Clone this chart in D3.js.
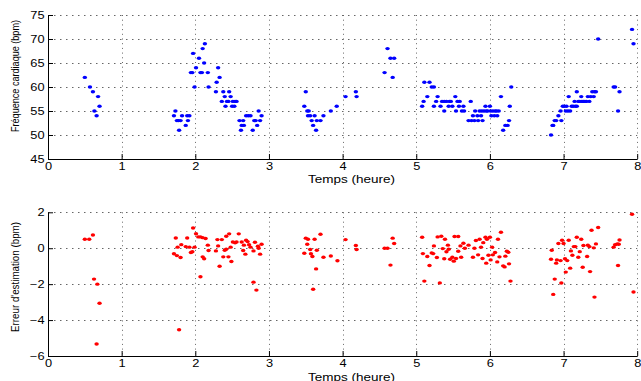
<!DOCTYPE html>
<html>
<head>
<meta charset="utf-8">
<script src="https://cdn.jsdelivr.net/npm/d3@7"></script>
<style>
  html, body { margin: 0; padding: 0; background: #fff; }
  svg { display: block; }
  text { font-family: "Liberation Sans", Arial, sans-serif; fill: #000; }
</style>
</head>
<body>
<div id="chart"></div>
<script>
const WIDTH = 641
const HEIGHT = 381
// the figure was resized wider than tall, so horizontal text is stretched
const TEXT_STRETCH = 1.28

// heart rate (top panel)
const hrTime = [
  0.50, 0.57, 0.61, 0.63, 0.66, 0.68, 0.70,
  1.71, 1.73, 1.75, 1.77, 1.78, 1.80, 1.82, 1.87, 1.89, 1.90, 1.92, 1.94, 1.96, 1.97,
  1.99, 2.01, 2.05, 2.07, 2.09, 2.10, 2.12, 2.13, 2.17, 2.18, 2.28, 2.29, 2.31, 2.33,
  2.36, 2.38, 2.40, 2.41, 2.43, 2.45, 2.46, 2.48, 2.50, 2.51, 2.53, 2.54, 2.56, 2.60,
  2.62, 2.63, 2.65, 2.66, 2.69, 2.72, 2.75, 2.78, 2.80, 2.82, 2.84, 2.86, 2.88, 2.90,
  3.48, 3.50, 3.52, 3.54, 3.53, 3.56, 3.58, 3.60, 3.62, 3.64, 3.65, 3.70, 3.74, 3.84,
  3.92, 4.04, 4.18, 4.19, 4.57, 4.61, 4.65, 4.68, 4.70,
  5.08, 5.10, 5.11, 5.15, 5.18, 5.21, 5.24, 5.24, 5.27, 5.29, 5.33, 5.35, 5.38, 5.38,
  5.41, 5.44, 5.45, 5.47, 5.49, 5.53, 5.54, 5.56, 5.58, 5.59, 5.62, 5.64, 5.65, 5.71,
  5.74, 5.75, 5.77, 5.79, 5.80, 5.83, 5.84, 5.86, 5.88, 5.89, 5.90, 5.92, 5.94, 5.95,
  5.97, 6.00, 6.01, 6.02, 6.04, 6.06, 6.07, 6.09, 6.10, 6.12, 6.15, 6.18, 6.21, 6.24,
  6.26, 6.27, 6.29,
  6.83, 6.85, 6.86, 6.88, 6.90, 6.93, 6.96, 6.97, 6.99, 7.01, 7.03, 7.04, 7.06, 7.07,
  7.09, 7.11, 7.13, 7.15, 7.16, 7.18, 7.18, 7.20, 7.22, 7.24, 7.25, 7.27, 7.29, 7.31,
  7.33, 7.35, 7.37, 7.39, 7.41, 7.42, 7.44, 7.47, 7.68, 7.70, 7.74, 7.76, 7.93, 7.95
]
const hrBpm = [
  62, 60, 59, 55, 54, 58, 56,
  54, 55, 53, 53, 51, 53, 54, 52, 54, 53, 54, 63, 63, 67,
  60, 64, 66, 63, 63, 68, 65, 69, 63, 60, 59, 61, 64, 62,
  57, 59, 58, 56, 57, 57, 59, 58, 56, 57, 56, 57, 57, 53,
  51, 52, 53, 52, 54, 54, 54, 51, 53, 53, 52, 55, 53, 54,
  56, 59, 55, 55, 54, 54, 53, 52, 54, 51, 53, 53, 54, 55,
  56, 58, 59, 58, 63, 68, 66, 62, 66,
  56, 57, 61, 58, 61, 60, 60, 56, 57, 58, 56, 57, 55, 57,
  57, 56, 57, 57, 56, 58, 55, 57, 56, 57, 55, 56, 55, 53,
  57, 53, 54, 53, 55, 54, 53, 55, 54, 55, 53, 55, 56, 55,
  55, 56, 55, 54, 55, 54, 55, 55, 54, 55, 58, 51, 52, 52,
  53, 56, 60,
  50, 52, 52, 53, 53, 54, 55, 53, 56, 56, 55, 56, 55, 58,
  55, 56, 56, 57, 56, 59, 56, 57, 57, 58, 57, 57, 57, 57,
  58, 57, 58, 59, 58, 59, 59, 70, 60, 60, 55, 59, 72, 69
]

// estimation error (bottom panel)
const errTime = [
  0.50, 0.56, 0.61, 0.625, 0.66, 0.67, 0.70,
  1.71, 1.735, 1.75, 1.76, 1.78, 1.80, 1.81, 1.87, 1.89, 1.92, 1.94, 1.96, 1.97, 1.99,
  2.01, 2.04, 2.07, 2.07, 2.10, 2.10, 2.12, 2.14, 2.17, 2.18, 2.28, 2.30, 2.31, 2.33,
  2.36, 2.38, 2.40, 2.42, 2.42, 2.45, 2.46, 2.48, 2.49, 2.51, 2.54, 2.56, 2.59, 2.63,
  2.65, 2.66, 2.68, 2.69, 2.71, 2.73, 2.75, 2.79, 2.79, 2.81, 2.83, 2.85, 2.86, 2.88, 2.90,
  3.48, 3.50, 3.52, 3.53, 3.56, 3.57, 3.59, 3.60, 3.62, 3.64, 3.65, 3.70, 3.74, 3.84,
  3.93, 4.04, 4.18, 4.19, 4.57, 4.61, 4.65, 4.68, 4.70,
  5.08, 5.09, 5.11, 5.15, 5.18, 5.21, 5.24, 5.23, 5.28, 5.29, 5.34, 5.32, 5.36, 5.38,
  5.39, 5.41, 5.43, 5.44, 5.46, 5.49, 5.51, 5.52, 5.57, 5.54, 5.57, 5.60, 5.61, 5.64,
  5.66, 5.71, 5.77, 5.79, 5.81, 5.84, 5.86, 5.88, 5.90, 5.91, 5.94, 5.95, 5.96, 5.98,
  6.00, 6.01, 6.03, 6.04, 6.07, 6.10, 6.11, 6.13, 6.15, 6.18, 6.20, 6.21, 6.23, 6.25,
  6.26, 6.28,
  6.83, 6.84, 6.86, 6.88, 6.90, 6.91, 6.93, 6.96, 6.97, 6.98, 7.00, 7.02, 7.03, 7.05,
  7.07, 7.09, 7.10, 7.12, 7.14, 7.16, 7.18, 7.20, 7.22, 7.24, 7.26, 7.27, 7.32, 7.33,
  7.35, 7.36, 7.38, 7.41, 7.42, 7.44, 7.47, 7.68, 7.70, 7.73, 7.74, 7.75, 7.76, 7.93, 7.95
]
const errValue = [
  0.5, 0.5, 0.74, -1.72, -5.33, -2.0, -3.06,
  -0.31, 0.57, -0.41, 0.06, -4.54, -0.52, 0.2, 0.09, 0.57, 0.06, -0.24, -0.2, 1.13, 0.06,
  0.81, 0.63, 0.63, -1.59, 0.59, -0.48, -0.59, 0.54, 0.17, -0.13, -0.15, 0.48, 0.13, -1.0,
  0.48, -0.48, -0.11, -0.06, 0.67, -0.48, 0.8, 0.06, -0.74, 0.35, 0.3, 0.35, 0.8, 0.35,
  -0.13, 0.17, -0.33, 0.44, 0.37, 0.19, 0.06, -0.15, -1.89, 0.33, -2.33, 0.11, 0.0, -0.33, 0.22,
  -0.28, 0.56, 0.22, 0.5, -0.07, -0.31, -0.46, -2.28, 0.5, -1.15, -0.11, 0.78, -0.5, -0.43,
  -0.7, 0.48, 0.15, -0.07, 0.0, 0.0, -0.94, 0.56, 0.26,
  0.61, -0.3, -1.83, -0.46, -0.96, -0.26, 0.13, -0.3, -0.52, 0.63, 0.67, -1.93, -0.02, -0.59,
  0.5, -0.2, 0.17, -0.06, -0.61, -0.5, -0.72, 0.65, 0.65, -0.57, -0.17, 0.13, -0.5, 0.28,
  0.0, 0.17, -0.5, 0.0, 0.43, -0.37, 0.5, 0.06, -0.57, 0.31, 0.61, -0.83, 0.5, -0.39,
  0.61, -0.65, 0.06, -0.37, -0.24, -0.76, 0.5, -0.48, 0.89, -0.98, -1.04, -0.44, -0.17, -0.22,
  -0.87, -1.83,
  -0.61, -0.11, -2.57, -1.72, -0.83, -0.65, 0.26, -0.69, -1.94, 0.44, 0.26, -0.59, -1.33, -0.69,
  0.44, -1.11, -0.15, -0.39, 0.09, 0.09, 0.61, -0.5, -0.19, 0.5, -1.06, 0.15, -0.46, 0.17,
  0.09, -1.3, 1.0, 0.02, -2.72, 0.24, 1.15, 0.06, 0.19, 0.24, -0.96, 0.22, 0.46, 1.89, -2.44
]

const timeTicks = [0, 1, 2, 3, 4, 5, 6, 7, 8]
const bpmTicks = [45, 50, 55, 60, 65, 70, 75]
const errTicks = [-6, -4, -2, 0, 2]

const svg = d3.select('#chart')
  .append('svg')
  .attr('width', WIDTH)
  .attr('height', HEIGHT)

const x = d3.scaleLinear().domain([0, 8]).range([48, 637.2])

function drawPanel(opts) {
  const y = d3.scaleLinear().domain(opts.yDomain).range(opts.yRange)
  const g = svg.append('g')
  const [x0, x1] = x.range()
  const yBottom = opts.yRange[0]
  const yTop = opts.yRange[1]

  // dotted grid
  g.append('g')
    .selectAll('line')
    .data(timeTicks.filter((d) => d !== 0))
    .enter()
    .append('line')
    .attr('x1', (d) => Math.round(x(d)) + 0.5)
    .attr('x2', (d) => Math.round(x(d)) + 0.5)
    .attr('y1', yTop)
    .attr('y2', yBottom)
    .attr('stroke', '#666')
    .attr('stroke-dasharray', '1,3.7')

  g.append('g')
    .selectAll('line')
    .data(opts.yTicks.filter((d) => d !== opts.yDomain[0]))
    .enter()
    .append('line')
    .attr('x1', x0)
    .attr('x2', x1)
    .attr('y1', (d) => Math.round(y(d)) + 0.5)
    .attr('y2', (d) => Math.round(y(d)) + 0.5)
    .attr('stroke', '#666')
    .attr('stroke-dasharray', '1.5,4.5')

  // points
  g.append('g')
    .selectAll('ellipse')
    .data(d3.zip(opts.xs, opts.ys))
    .enter()
    .append('ellipse')
    .attr('cx', (d) => x(d[0]))
    .attr('cy', (d) => y(d[1]))
    .attr('rx', 2.2)
    .attr('ry', 1.7)
    .attr('fill', opts.color)

  const xAxis = g.append('g')
    .attr('transform', `translate(0,${Math.round(yBottom)})`)
    .call(d3.axisBottom(x).tickValues(timeTicks).tickSize(-5).tickSizeOuter(0).tickPadding(4).tickFormat(d3.format('d')))
  xAxis.selectAll('text')
    .attr('transform', `scale(${TEXT_STRETCH},1)`)

  const yAxis = g.append('g')
    .attr('transform', `translate(${x0},0)`)
    .call(d3.axisLeft(y).tickValues(opts.yTicks).tickSize(-5).tickSizeOuter(0).tickPadding(3.5).tickFormat(d3.format('d')))
  yAxis.selectAll('text')
    .attr('x', -3.5 / TEXT_STRETCH)
    .attr('transform', `scale(${TEXT_STRETCH},1)`)

  g.selectAll('.tick text')
    .attr('font-family', '"Liberation Sans", Arial, sans-serif')
    .attr('font-size', 10)
  g.selectAll('.domain, .tick line').attr('stroke', '#000')

  g.append('text')
    .attr('transform', `translate(${opts.xLabelPos[0]},${opts.xLabelPos[1]})`)
    .attr('text-anchor', 'middle')
    .attr('dy', '0.35em')
    .attr('font-size', 10)
    .attr('textLength', 87)
    .attr('lengthAdjust', 'spacingAndGlyphs')
    .text('Temps (heure)')

  g.append('text')
    .attr('transform', `translate(${opts.yLabelPos[0]},${opts.yLabelPos[1]}) rotate(-90)`)
    .attr('text-anchor', 'middle')
    .attr('dy', '0.35em')
    .attr('font-size', 10)
    .attr('textLength', opts.yLabelLength)
    .attr('lengthAdjust', 'spacingAndGlyphs')
    .text(opts.yLabel)
}

drawPanel({
  yDomain: [45, 75],
  yRange: [159, 15],
  yTicks: bpmTicks,
  xs: hrTime,
  ys: hrBpm,
  color: '#0000ff',
  yLabel: 'Fréquence cardiaque (bpm)',
  yLabelPos: [15.5, 76],
  yLabelLength: 112,
  xLabelPos: [351.5, 179],
})

drawPanel({
  yDomain: [-6, 2],
  yRange: [356, 212.3],
  yTicks: errTicks,
  xs: errTime,
  ys: errValue,
  color: '#ff0000',
  yLabel: "Erreur d'estimation (bpm)",
  yLabelPos: [15.5, 277],
  yLabelLength: 110,
  xLabelPos: [351.5, 377],
})
</script>
</body>
</html>
